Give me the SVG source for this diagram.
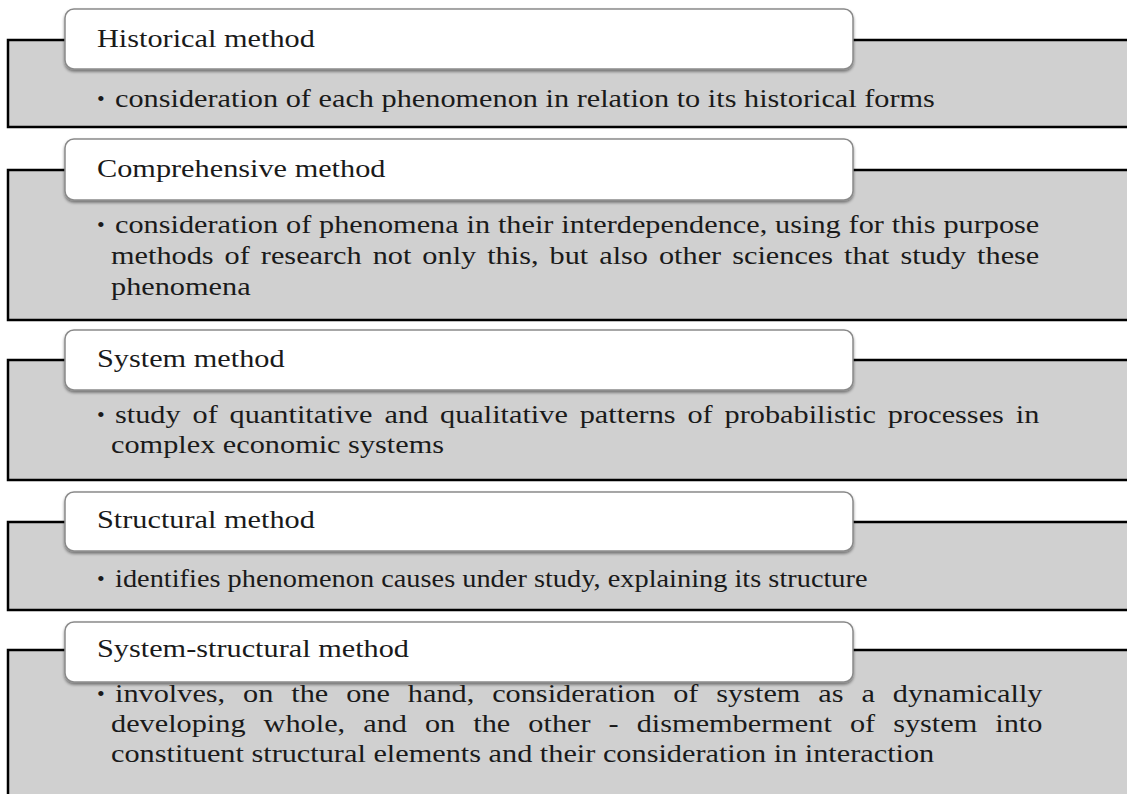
<svg xmlns="http://www.w3.org/2000/svg" width="1127" height="794" viewBox="0 0 1127 794">
<defs>
<filter id="sh" x="-5%" y="-20%" width="110%" height="150%">
<feDropShadow dx="0" dy="2" stdDeviation="1.5" flood-color="#000" flood-opacity="0.45"/>
</filter>
</defs>
<style>
.box{fill:#d0d0d0;stroke:#000;stroke-width:2.5}
.tab{fill:#fff;stroke:#8a8a8a;stroke-width:1.5;filter:url(#sh)}
.t{font-family:'Liberation Serif','Times New Roman',Times,serif;font-size:26px;fill:#1a1a1a}
.b{font-family:'Liberation Serif','Times New Roman',Times,serif;font-size:22px;fill:#1a1a1a}
</style>
<rect width="1127" height="794" fill="#fff"/>
<g id="historical">
<rect class="box" x="8" y="40" width="1130" height="87"/>
<rect class="tab" x="65" y="9" width="788" height="60" rx="9"/>
<text class="t" transform="translate(97 47) scale(1.165 1)">Historical method</text>
<text class="b" x="97" y="106">•</text>
<text class="t" transform="translate(115 107) scale(1.165 1)">consideration of each phenomenon in relation to its historical forms</text>
</g>
<g id="comprehensive">
<rect class="box" x="8" y="170" width="1130" height="150"/>
<rect class="tab" x="65" y="139" width="788" height="61" rx="9"/>
<text class="t" transform="translate(97 177) scale(1.165 1)">Comprehensive method</text>
<text class="b" x="97" y="232">•</text>
<text class="t" transform="translate(115 233) scale(1.165 1)" word-spacing="0.25">consideration of phenomena in their interdependence, using for this purpose</text>
<text class="t" transform="translate(111 264) scale(1.165 1)" word-spacing="2.94">methods of research not only this, but also other sciences that study these</text>
<text class="t" transform="translate(111 295) scale(1.165 1)">phenomena</text>
</g>
<g id="system">
<rect class="box" x="8" y="360" width="1130" height="120"/>
<rect class="tab" x="65" y="330" width="788" height="60" rx="9"/>
<text class="t" transform="translate(97 367) scale(1.165 1)">System method</text>
<text class="b" x="97" y="422">•</text>
<text class="t" transform="translate(115 423) scale(1.165 1)" word-spacing="3.7">study of quantitative and qualitative patterns of probabilistic processes in</text>
<text class="t" transform="translate(111 453) scale(1.165 1)">complex economic systems</text>
</g>
<g id="structural">
<rect class="box" x="8" y="522" width="1130" height="88"/>
<rect class="tab" x="65" y="492" width="788" height="59" rx="9"/>
<text class="t" transform="translate(97 528) scale(1.165 1)">Structural method</text>
<text class="b" x="97" y="586">•</text>
<text class="t" transform="translate(115 587) scale(1.165 1)" textLength="646" lengthAdjust="spacingAndGlyphs">identifies phenomenon causes under study, explaining its structure</text>
</g>
<g id="system-structural">
<rect class="box" x="8" y="650" width="1130" height="170"/>
<rect class="tab" x="65" y="622" width="788" height="60" rx="9"/>
<text class="t" transform="translate(97 657) scale(1.165 1)">System-structural method</text>
<text class="b" x="97" y="701">•</text>
<text class="t" transform="translate(115 702) scale(1.165 1)" word-spacing="8.87">involves, on the one hand, consideration of system as a dynamically</text>
<text class="t" transform="translate(111 732) scale(1.165 1)" word-spacing="8.99">developing whole, and on the other - dismemberment of system into</text>
<text class="t" transform="translate(111 762) scale(1.165 1)">constituent structural elements and their consideration in interaction</text>
</g>
<g id="connectors"/>
</svg>
